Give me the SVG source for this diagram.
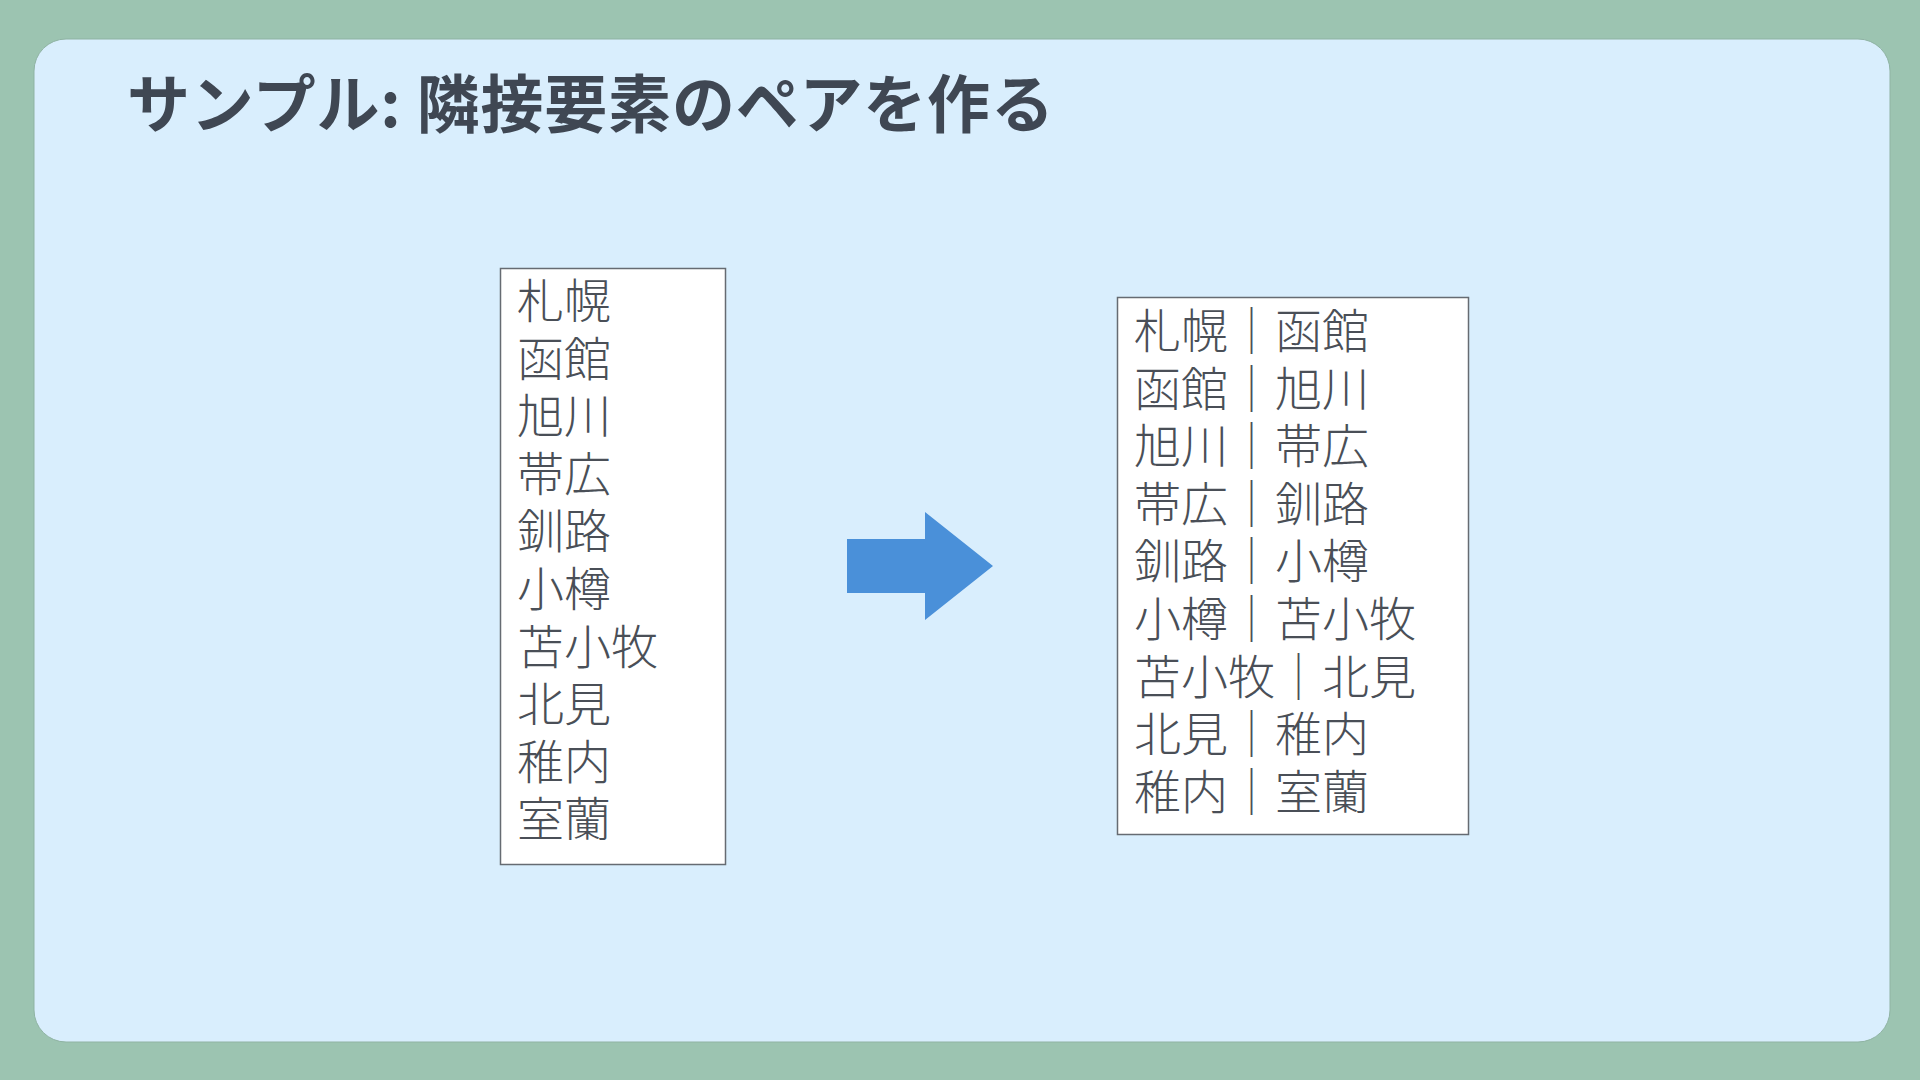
<svg xmlns="http://www.w3.org/2000/svg" width="1920" height="1080" viewBox="0 0 1920 1080">
<style>
.title{font-family:"Noto Sans CJK JP","Noto Sans",sans-serif;font-weight:700;font-size:63px;letter-spacing:0.8px;fill:#3f4753}
.item{font-family:"Noto Sans CJK JP","Noto Sans",sans-serif;font-weight:300;font-size:47px;fill:#4a4f57}
.box{fill:#ffffff;stroke:#666b72;stroke-width:1.5}
</style>
<rect x="0" y="0" width="1920" height="1080" fill="#9cc4b1"/>
<rect x="34" y="39" width="1856" height="1003" rx="32" ry="32" fill="#d9eefd" stroke="#8fb3a3" stroke-width="1"/>
<text class="title" x="127" y="127">サンプル: 隣接要素のペアを作る</text>
<g id="source-list">
<rect class="box" x="500.5" y="268.5" width="225" height="596"/>
<text class="item" x="517" y="318">札幌</text>
<text class="item" x="517" y="375.6">函館</text>
<text class="item" x="517" y="433.2">旭川</text>
<text class="item" x="517" y="490.8">帯広</text>
<text class="item" x="517" y="548.4">釧路</text>
<text class="item" x="517" y="606">小樽</text>
<text class="item" x="517" y="663.6">苫小牧</text>
<text class="item" x="517" y="721.2">北見</text>
<text class="item" x="517" y="778.8">稚内</text>
<text class="item" x="517" y="836.4">室蘭</text>
</g>
<g id="connectors">
<polygon points="847,539 925,539 925,512 993,566 925,620 925,593 847,593" fill="#4a90d9"/>
</g>
<g id="pair-list">
<rect class="box" x="1117.5" y="297.5" width="351" height="537"/>
<text class="item" x="1134" y="348">札幌｜函館</text>
<text class="item" x="1134" y="405.6">函館｜旭川</text>
<text class="item" x="1134" y="463.2">旭川｜帯広</text>
<text class="item" x="1134" y="520.8">帯広｜釧路</text>
<text class="item" x="1134" y="578.4">釧路｜小樽</text>
<text class="item" x="1134" y="636">小樽｜苫小牧</text>
<text class="item" x="1134" y="693.6">苫小牧｜北見</text>
<text class="item" x="1134" y="751.2">北見｜稚内</text>
<text class="item" x="1134" y="808.8">稚内｜室蘭</text>
</g>
</svg>
